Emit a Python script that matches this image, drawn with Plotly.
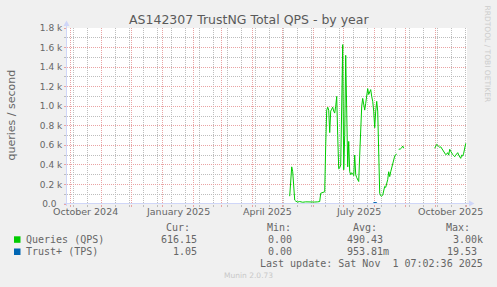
import plotly.graph_objects as go

# ---------------- data ----------------
dates = [
    "2025-05-08", "2025-05-09", "2025-05-10", "2025-05-11", "2025-05-12", "2025-05-13", "2025-05-14",
    "2025-05-16", "2025-05-18", "2025-05-21", "2025-05-24", "2025-05-27", "2025-05-30", "2025-06-02",
    "2025-06-05", "2025-06-07", "2025-06-08", "2025-06-10", "2025-06-12", "2025-06-13", "2025-06-14",
    "2025-06-15", "2025-06-16", "2025-06-17", "2025-06-18", "2025-06-19", "2025-06-20", "2025-06-21",
    "2025-06-22", "2025-06-23", "2025-06-24", "2025-06-25", "2025-06-26", "2025-06-27", "2025-06-28",
    "2025-06-29", "2025-06-30", "2025-07-01", "2025-07-02", "2025-07-03", "2025-07-04", "2025-07-05",
    "2025-07-06", "2025-07-07", "2025-07-08", "2025-07-09", "2025-07-10", "2025-07-11", "2025-07-12",
    "2025-07-13", "2025-07-14", "2025-07-15", "2025-07-16", "2025-07-17", "2025-07-18", "2025-07-19",
    "2025-07-20", "2025-07-21", "2025-07-22", "2025-07-23", "2025-07-24", "2025-07-25", "2025-07-26",
    "2025-07-27", "2025-07-28", "2025-07-29", "2025-07-30", "2025-07-31", "2025-08-01", "2025-08-02",
    "2025-08-03", "2025-08-04", "2025-08-05", "2025-08-06", "2025-08-07", "2025-08-08", "2025-08-09",
    "2025-08-10", "2025-08-11", "2025-08-12", "2025-08-13", "2025-08-14", "2025-08-15", "2025-08-16",
    "2025-08-17", "2025-08-18", "2025-08-19", "2025-08-20", "2025-08-21", "2025-08-22", "2025-08-23",
    "2025-08-24", "2025-08-25", "2025-08-26", "2025-08-27", "2025-08-28", "2025-08-29", "2025-08-30",
    "2025-08-31", "2025-09-30", "2025-10-01", "2025-10-02", "2025-10-03", "2025-10-04", "2025-10-05",
    "2025-10-06", "2025-10-07", "2025-10-08", "2025-10-09", "2025-10-10", "2025-10-11", "2025-10-12",
    "2025-10-13", "2025-10-14", "2025-10-15", "2025-10-16", "2025-10-17", "2025-10-18", "2025-10-19",
    "2025-10-20", "2025-10-21", "2025-10-22", "2025-10-23", "2025-10-24", "2025-10-25", "2025-10-26",
    "2025-10-27", "2025-10-28", "2025-10-29", "2025-10-30", "2025-10-31",
]

queries_qps = [
    80, 250, 380, 330, 140, 40, 30,
    20, 25, 18, 22, 20, 24, 20,
    22, 25, 110, 120, 125, 600, 960,
    990, 960, 730, 950, 970, 990, 950,
    930, 1000, 1100, 700, 360, 370, 400,
    1000, 1630, 350, 700, 1520, 800, 380,
    640, 330, 300, 320, 310, 290, 500,
    300, 270, 240, 230, 500, 860, 1000,
    1080, 1000, 960, 1030, 1100, 1180, 1120,
    1160, 1170, 1100, 1050, 950, 780, 950,
    1050, 950, 450, 110, 85, 80, 90,
    150, 180, 170, 200, 250, 330, 280,
    330, 370, 416, 450, 490, 505, 510,
    None, 559, 560, 565, 575, 593, 570,
    None, 570, 600, 610, 600, 590, 580,
    585, 570, 552, 530, 518, 505, 510,
    525, 500, 559, 540, 515, 505, 495,
    484, 500, 510, 525, 500, 480, 467,
    500, 490, 520, 560, 620,
]

trust_tps = [
    1, 1, 1, 1, 1, 1, 1,
    1, 1, 1, 1, 1, 1, 1,
    1, 1, 1, 1, 1, 1, 1,
    1, 1, 1, 1, 1, 1, 1,
    1, 1, 1, 1, 1, 1, 1,
    1, 1, 1, 1, 1, 1, 1,
    1, 1, 1, 1, 1, 1, 1,
    1, 1, 1, 1, 1, 1, 1,
    1, 1, 1, 1, 1, 1, 1,
    1, 1, 1, 1, 15, 16, 15,
    14, 1, 1, 1, 1, 1, 1,
    1, 1, 1, 1, 1, 1, 1,
    1, 1, 1, 1, 1, 1, 1,
    None, 1, 1, 1, 1, 1, 1,
    None, 1, 1, 1, 1, 1, 1,
    1, 1, 1, 1, 1, 1, 1,
    1, 1, 1, 1, 1, 1, 1,
    1, 1, 1, 1, 1, 1, 1,
    1, 1, 1, 1, 1,
]

y_tick_vals = [0, 200, 400, 600, 800, 1000, 1200, 1400, 1600, 1800]
y_tick_text = ["0.0\u00a0\u00a0", "0.2 k", "0.4 k", "0.6 k", "0.8 k", "1.0 k", "1.2 k", "1.4 k", "1.6 k", "1.8 k"]

month_starts = ["2024-10-01", "2024-11-01", "2024-12-01", "2025-01-01", "2025-02-01", "2025-03-01",
                "2025-04-01", "2025-05-01", "2025-06-01", "2025-07-01", "2025-08-01", "2025-09-01",
                "2025-10-01", "2025-11-01"]
x_label_dates = ["2024-10-16", "2025-01-16", "2025-04-16", "2025-07-16", "2025-10-16"]
x_label_text = ["October 2024", "January 2025", "April 2025", "July 2025", "October 2025"]

series_names = ["Queries (QPS)", "Trust+ (TPS)"]
series_colors = ["#00CC00", "#0066B3"]
cur_vals = ["616.15", "1.05"]
min_vals = ["0.00", "0.00"]
avg_vals = ["490.43\u00a0", "953.81m"]
max_vals = ["3.00k", "19.53\u00a0"]

title_text = "AS142307 TrustNG Total QPS - by year"
y_title = "queries / second"
last_update = "Last update: Sat Nov\u00a0\u00a01 07:02:36 2025"

# ---------------- style ----------------
W, H = 497, 287
L, R, T, B = 67, 467, 28, 204
BACK = "#F0F0F0"
FONT = "#666666"
AXIS = "#CFD6F8"
MGRID = "#E9A3A3"
GRID = "#BDBDBD"
SANS = "DejaVu Sans"
MONO = "DejaVu Sans Mono"


def xp(p):
    return (p - L) / (R - L)


def yp(p):
    return (B - p) / (B - T)


fig = go.Figure()
for name, vals, col in zip(series_names, [queries_qps, trust_tps], series_colors):
    fig.add_trace(go.Scatter(x=dates, y=vals, mode="lines", name=name,
                             line=dict(color=col, width=1), connectgaps=False,
                             hoverinfo="skip"))

annotations = []


def ann(text, px, py, xanchor="left", size=10, color=FONT, family=SANS, angle=0):
    annotations.append(dict(text=text, x=xp(px), y=yp(py), xref="paper", yref="paper",
                            xanchor=xanchor, yanchor="middle", showarrow=False,
                            font=dict(size=size, color=color, family=family),
                            textangle=angle, borderpad=0, borderwidth=0))


ann(title_text, 248.5, 19.7, "center", 12.5, "#5a5a5a")
ann(y_title, 11.5, 115, "center", 11, FONT, SANS, -90)
ann("RRDTOOL / TOBI OETIKER", 487, 53.5, "center", 7.5, "#CCCCCC", SANS, 90)
ann("Munin 2.0.73", 248, 275.8, "center", 7.5, "#C8C8C8")

for d, t in zip(x_label_dates, x_label_text):
    annotations.append(dict(text=t, x=d, y=yp(211.5), xref="x", yref="paper",
                            xanchor="center", yanchor="middle", showarrow=False,
                            font=dict(size=9.5, color=FONT, family=SANS),
                            borderpad=0, borderwidth=0))

# legend block
ann("Cur:", 190, 228, "right", 10, FONT, MONO)
ann("Min:", 291, 228, "right", 10, FONT, MONO)
ann("Avg:", 377, 228, "right", 10, FONT, MONO)
ann("Max:", 470, 228, "right", 10, FONT, MONO)
row_y = [239.5, 251.7]
shapes = []
for i in range(2):
    y = row_y[i]
    shapes.append(dict(type="rect", xref="paper", yref="paper",
                       x0=xp(14), x1=xp(20.5), y0=yp(y + 3.3), y1=yp(y - 3.2),
                       fillcolor=series_colors[i], line=dict(width=0)))
    ann(series_names[i], 26, y, "left", 10, FONT, MONO)
    ann(cur_vals[i], 197, y, "right", 10, FONT, MONO)
    ann(min_vals[i], 292, y, "right", 10, FONT, MONO)
    ann(avg_vals[i], 389, y, "right", 10, FONT, MONO)
    ann(max_vals[i], 483, y, "right", 10, FONT, MONO)
ann(last_update, 483, 263.5, "right", 10, FONT, MONO)

# axes with arrows (rrdtool style)
shapes.append(dict(type="line", xref="paper", yref="paper", x0=xp(66.5), x1=xp(66.5),
                   y0=yp(206), y1=yp(24), line=dict(color=AXIS, width=1), layer="above"))
shapes.append(dict(type="path", xref="paper", yref="paper",
                   path=f"M {xp(63.5)} {yp(26)} L {xp(69.5)} {yp(26)} L {xp(66.5)} {yp(20.5)} Z",
                   fillcolor=AXIS, line=dict(width=0), layer="above"))
shapes.append(dict(type="line", xref="paper", yref="paper", x0=xp(64), x1=xp(470),
                   y0=yp(203.5), y1=yp(203.5), line=dict(color=AXIS, width=1), layer="above"))
shapes.append(dict(type="path", xref="paper", yref="paper",
                   path=f"M {xp(469)} {yp(200.5)} L {xp(469)} {yp(206.5)} L {xp(474.5)} {yp(203.5)} Z",
                   fillcolor=AXIS, line=dict(width=0), layer="above"))

fig.update_layout(
    width=W, height=H,
    margin=dict(l=L, r=W - R, t=T, b=H - B, pad=0),
    paper_bgcolor=BACK, plot_bgcolor="#FFFFFF",
    showlegend=False,
    annotations=annotations,
    shapes=shapes,
    xaxis=dict(
        type="date", range=["2024-09-27 07:02:36", "2025-11-01 07:02:36"],
        tickmode="array", tickvals=month_starts, ticktext=[""] * len(month_starts),
        showgrid=True, gridcolor=MGRID, gridwidth=1, griddash="1px,1px",
        ticks="outside", ticklen=2, tickcolor=MGRID, tickwidth=1,
        showline=False, zeroline=False, fixedrange=True,
        minor=dict(tickmode="linear", tick0="2024-10-04", dtick=14 * 86400000,
                   showgrid=True, gridcolor=GRID, gridwidth=1, griddash="1px,1px",
                   ticks="outside", ticklen=2, tickcolor=GRID),
    ),
    yaxis=dict(
        range=[0, 1800], tickmode="array", tickvals=y_tick_vals, ticktext=y_tick_text,
        tickfont=dict(size=9, color=FONT, family=SANS),
        showgrid=True, gridcolor=MGRID, gridwidth=1, griddash="1px,1px",
        ticks="outside", ticklen=2, tickcolor=MGRID, tickwidth=1,
        showline=False, zeroline=False, fixedrange=True,
        minor=dict(tickmode="linear", tick0=0, dtick=100, showgrid=True, gridcolor=GRID,
                   gridwidth=1, griddash="1px,1px", ticks="outside", ticklen=2, tickcolor=GRID),
    ),
)

fig.write_html("out.html")
